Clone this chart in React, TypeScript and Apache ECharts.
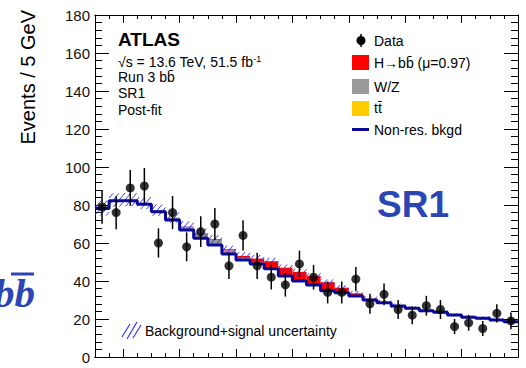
import React, { useEffect, useRef } from "react";
import * as echarts from "echarts";

// ---- data (m_bb bins of 5 GeV, 50-200 GeV) ----
const binLowEdges = [50, 55, 60, 65, 70, 75, 80, 85, 90, 95, 100, 105, 110, 115, 120, 125, 130, 135, 140, 145, 150, 155, 160, 165, 170, 175, 180, 185, 190, 195];
const binWidth = 5;
const dataCounts = [79, 76, 89, 90, 60, 76, 58, 66, 70, 48, 64, 48, 42, 38, 49, 42, 34, 34, 41, 28, 33, 25, 22, 27, 25, 16, 18, 15, 23, 19];
const dataErrors = [8.9, 8.7, 9.4, 9.5, 7.7, 8.7, 7.6, 8.1, 8.4, 6.9, 8.0, 6.9, 6.5, 6.2, 7.0, 6.5, 5.8, 5.8, 6.4, 5.3, 5.7, 5.0, 4.7, 5.2, 5.0, 4.0, 4.2, 3.9, 4.8, 4.4];
const nonResBkgd = [78.2, 82.3, 82.3, 80.4, 76.5, 72.1, 66.8, 62.5, 58.9, 54.2, 51.0, 49.0, 46.4, 42.6, 40.0, 37.9, 34.9, 33.8, 32.1, 30.0, 28.6, 26.8, 25.6, 24.4, 23.5, 22.1, 20.9, 20.4, 19.5, 18.6];
const ttbar = [0.1, 0.1, 0.2, 0.2, 0.2, 0.3, 0.3, 0.3, 0.3, 0.3, 0.3, 0.3, 0.2, 0.2, 0.2, 0.2, 0.2, 0.1, 0.1, 0.1, 0.1, 0.1, 0.1, 0.1, 0.1, 0.1, 0.1, 0.1, 0.1, 0.1];
const wz = [0.1, 0.2, 0.3, 0.4, 0.6, 1.0, 1.6, 2.2, 2.4, 1.6, 0.9, 0.5, 0.3, 0.2, 0.2, 0.1, 0.1, 0.1, 0.1, 0.1, 0, 0, 0, 0, 0, 0, 0, 0, 0, 0];
const higgs = [0, 0, 0, 0, 0, 0, 0.1, 0.2, 0.4, 0.6, 1.0, 2.0, 3.5, 4.0, 4.4, 4.4, 4.2, 2.5, 1.2, 0.5, 0.2, 0.1, 0, 0, 0, 0, 0, 0, 0, 0];
const bandHalfWidth = [4.0, 3.5, 3.5, 3.2, 3.0, 2.8, 2.6, 2.4, 2.2, 2.0, 2.0, 1.9, 1.8, 1.7, 1.6, 1.5, 1.4, 1.3, 1.2, 1.2, 1.1, 1.1, 1.0, 1.0, 1.0, 0.9, 0.9, 0.9, 0.9, 0.9];
const xMajorTicks = [60, 80, 100, 120, 140, 160, 180, 200];
const xMinorTicks = [55, 60, 65, 70, 75, 80, 85, 90, 95, 100, 105, 110, 115, 120, 125, 130, 135, 140, 145, 150, 155, 160, 165, 170, 175, 180, 185, 190, 195];
const xRange = [50, 200];
const yRange = [0, 180];

const FONT = "'Liberation Sans', Arial, Helvetica, sans-serif";
const BLUE_LINE = "#0a0a96";
const HATCH = "#3636ff";
const TITLE_BLUE = "#2b46b4";

function App() {
  const ref = useRef<HTMLDivElement>(null);

  useEffect(() => {
    if (!ref.current) return;
    const chart = echarts.init(ref.current, null, { renderer: "svg" });

    const n = binLowEdges.length;
    const base0 = nonResBkgd.slice();
    const base1 = base0.map((v, i) => v + ttbar[i]);
    const base2 = base1.map((v, i) => v + wz[i]);
    const total = base2.map((v, i) => v + higgs[i]);

    const rectRender = (color: string) => (params: any, api: any) => {
      const a = api.coord([api.value(0), api.value(3)]);
      const b = api.coord([api.value(1), api.value(2)]);
      return {
        type: "rect",
        shape: { x: a[0], y: a[1], width: b[0] - a[0], height: b[1] - a[1] },
        style: { fill: color },
      };
    };

    const stackSeries = (name: string, below: number[], vals: number[], color: string) => ({
      type: "custom",
      name,
      data: binLowEdges.map((lo, i) => [lo, lo + binWidth, below[i], below[i] + vals[i]]),
      encode: { x: [0, 1], y: [2, 3] },
      renderItem: rectRender(color),
      z: 2,
    });

    const lineStyle = { color: "#000", width: 1 };
    const xAxisBase = (position: string, len: number, vals: number[]) => ({
      type: "value",
      min: xRange[0],
      max: xRange[1],
      position,
      axisLine: { show: true, onZero: false, lineStyle },
      axisTick: { show: true, inside: true, length: len, customValues: vals, lineStyle },
      axisLabel: { show: false },
      splitLine: { show: false },
    });
    const yAxisBase = (position: string, labels: boolean) => ({
      type: "value",
      min: yRange[0],
      max: yRange[1],
      interval: 20,
      position,
      axisLine: { show: true, onZero: false, lineStyle },
      axisTick: { show: true, inside: true, length: 14, lineStyle },
      minorTick: { show: true, splitNumber: 5, length: 7, lineStyle },
      axisLabel: { show: labels, fontSize: 15, color: "#111", margin: 5, fontFamily: FONT },
      splitLine: { show: false },
      minorSplitLine: { show: false },
    });

    const legendX = 352;
    const legendTextX = 374;

    const option: any = {
      animation: false,
      backgroundColor: "#fff",
      grid: { left: 95, right: 8, top: 15, bottom: 11, containLabel: false, outerBoundsMode: "none" },
      xAxis: [
        xAxisBase("bottom", 8, xMajorTicks),
        xAxisBase("bottom", 4, xMinorTicks),
        xAxisBase("top", 8, xMajorTicks),
        xAxisBase("top", 4, xMinorTicks),
      ],
      yAxis: [yAxisBase("left", true), yAxisBase("right", false)],
      series: [
        stackSeries("tt", base0, ttbar, "#ffcc00"),
        stackSeries("W/Z", base1, wz, "#999999"),
        stackSeries("H", base2, higgs, "#ff0000"),
        {
          type: "custom",
          name: "uncertainty",
          data: binLowEdges.map((lo, i) => [lo, lo + binWidth, total[i] - bandHalfWidth[i], total[i] + bandHalfWidth[i]]),
          encode: { x: [0, 1], y: [2, 3] },
          renderItem: (params: any, api: any) => {
            const a = api.coord([api.value(0), api.value(3)]);
            const b = api.coord([api.value(1), api.value(2)]);
            const xa = a[0], xb = b[0], yt = a[1], yb = b[1];
            const m = 1.2, s = 7;
            const children: any[] = [];
            const cMin = yt + m * xa, cMax = yb + m * xb;
            for (let c = Math.ceil(cMin / s) * s; c <= cMax; c += s) {
              const x1 = Math.max(xa, (c - yb) / m);
              const x2 = Math.min(xb, (c - yt) / m);
              if (x2 > x1) {
                children.push({
                  type: "line",
                  shape: { x1, y1: c - m * x1, x2, y2: c - m * x2 },
                  style: { stroke: HATCH, lineWidth: 1 },
                });
              }
            }
            return { type: "group", children };
          },
          z: 3,
        },
        {
          type: "line",
          name: "Non-res. bkgd",
          step: "end",
          showSymbol: false,
          data: binLowEdges
            .map((lo, i) => [lo, nonResBkgd[i]])
            .concat([[binLowEdges[n - 1] + binWidth, nonResBkgd[n - 1]]]),
          lineStyle: { color: BLUE_LINE, width: 3 },
          z: 4,
        },
        {
          type: "custom",
          name: "Data errors",
          data: binLowEdges.map((lo, i) => [lo + binWidth / 2, dataCounts[i], dataErrors[i]]),
          encode: { x: 0, y: 1 },
          renderItem: (params: any, api: any) => {
            const x = api.value(0), v = api.value(1), e = api.value(2);
            const p0 = api.coord([x, v - e]);
            const p1 = api.coord([x, v + e]);
            return {
              type: "line",
              shape: { x1: p0[0], y1: p0[1], x2: p1[0], y2: p1[1] },
              style: { stroke: "#000", lineWidth: 1.5 },
            };
          },
          z: 5,
        },
        {
          type: "scatter",
          name: "Data",
          data: binLowEdges.map((lo, i) => [lo + binWidth / 2, dataCounts[i]]),
          symbol: "circle",
          symbolSize: 9,
          itemStyle: { color: "#000" },
          z: 6,
        },
      ],
      graphic: [
        // y-axis title
        {
          type: "text",
          x: 28,
          y: 10,
          rotation: Math.PI / 2,
          style: { text: "Events / 5 GeV", fontSize: 20, fontFamily: FONT, fill: "#000", align: "right", verticalAlign: "middle" },
        },
        // ATLAS label block
        { type: "text", x: 118, y: 39, style: { text: "ATLAS", fontSize: 19, fontWeight: "bold", fontFamily: FONT, fill: "#000", verticalAlign: "middle" } },
        {
          type: "text",
          x: 118,
          y: 62,
          style: {
            text: "√s = 13.6 TeV, 51.5 fb{sup|-1}",
            fontSize: 14,
            fontFamily: FONT,
            fill: "#000",
            verticalAlign: "middle",
            lineHeight: 16,
            rich: { sup: { fontSize: 9, fontFamily: FONT, verticalAlign: "top", lineHeight: 9, fill: "#000" } },
          },
        },
        { type: "text", x: 118, y: 77, style: { text: "Run 3 bb\u0304", fontSize: 14, fontFamily: FONT, fill: "#000", verticalAlign: "middle" } },
        { type: "text", x: 118, y: 93, style: { text: "SR1", fontSize: 14, fontFamily: FONT, fill: "#000", verticalAlign: "middle" } },
        { type: "text", x: 118, y: 110, style: { text: "Post-fit", fontSize: 14, fontFamily: FONT, fill: "#000", verticalAlign: "middle" } },
        // legend
        { type: "line", shape: { x1: legendX + 9, y1: 34, x2: legendX + 9, y2: 47 }, style: { stroke: "#000", lineWidth: 1.5 } },
        { type: "circle", shape: { cx: legendX + 9, cy: 40.5, r: 4.5 }, style: { fill: "#000" } },
        { type: "text", x: legendTextX, y: 41, style: { text: "Data", fontSize: 14, fontFamily: FONT, fill: "#000", verticalAlign: "middle" } },
        { type: "rect", shape: { x: legendX, y: 55, width: 17, height: 15 }, style: { fill: "#ff0000" } },
        { type: "text", x: legendTextX, y: 63, style: { text: "H\u2192bb\u0304 (\u03bc=0.97)", fontSize: 14, fontFamily: FONT, fill: "#000", verticalAlign: "middle" } },
        { type: "rect", shape: { x: legendX, y: 79, width: 17, height: 15 }, style: { fill: "#999999" } },
        { type: "text", x: legendTextX, y: 87, style: { text: "W/Z", fontSize: 14, fontFamily: FONT, fill: "#000", verticalAlign: "middle" } },
        { type: "rect", shape: { x: legendX, y: 101, width: 17, height: 15 }, style: { fill: "#ffcc00" } },
        { type: "text", x: legendTextX, y: 108, style: { text: "tt\u0304", fontSize: 14, fontFamily: FONT, fill: "#000", verticalAlign: "middle" } },
        { type: "line", shape: { x1: legendX, y1: 129.5, x2: legendX + 17, y2: 129.5 }, style: { stroke: BLUE_LINE, lineWidth: 3 } },
        { type: "text", x: legendTextX, y: 130, style: { text: "Non-res. bkgd", fontSize: 14, fontFamily: FONT, fill: "#000", verticalAlign: "middle" } },
        // uncertainty legend
        { type: "line", shape: { x1: 122, y1: 337, x2: 130, y2: 324 }, style: { stroke: HATCH, lineWidth: 1.2 } },
        { type: "line", shape: { x1: 127, y1: 339, x2: 137, y2: 322 }, style: { stroke: HATCH, lineWidth: 1.2 } },
        { type: "line", shape: { x1: 133, y1: 338, x2: 141, y2: 325 }, style: { stroke: HATCH, lineWidth: 1.2 } },
        { type: "text", x: 145, y: 331, style: { text: "Background+signal uncertainty", fontSize: 14, fontFamily: FONT, fill: "#000", verticalAlign: "middle" } },
        // big SR1 label
        { type: "text", x: 413, y: 204, style: { text: "SR1", fontSize: 37, fontWeight: "bold", fontFamily: FONT, fill: TITLE_BLUE, align: "center", verticalAlign: "middle" } },
        // cropped bb-bar on the left (cut at the figure edge, as in the reference)
        { type: "text", x: 35, y: 293, style: { text: "bb", fontSize: 41, fontWeight: "bold", fontStyle: "italic", fontFamily: "'Liberation Serif', 'Times New Roman', serif", fill: TITLE_BLUE, align: "right", verticalAlign: "middle" } },
        { type: "line", shape: { x1: 11, y1: 274, x2: 34, y2: 274 }, style: { stroke: TITLE_BLUE, lineWidth: 3 } },
      ],
    };

    chart.setOption(option);
    return () => chart.dispose();
  }, []);

  return <div ref={ref} style={{ position: "fixed", left: 0, top: 0, width: 526, height: 368, background: "#fff" }} />;
}

export default App;
